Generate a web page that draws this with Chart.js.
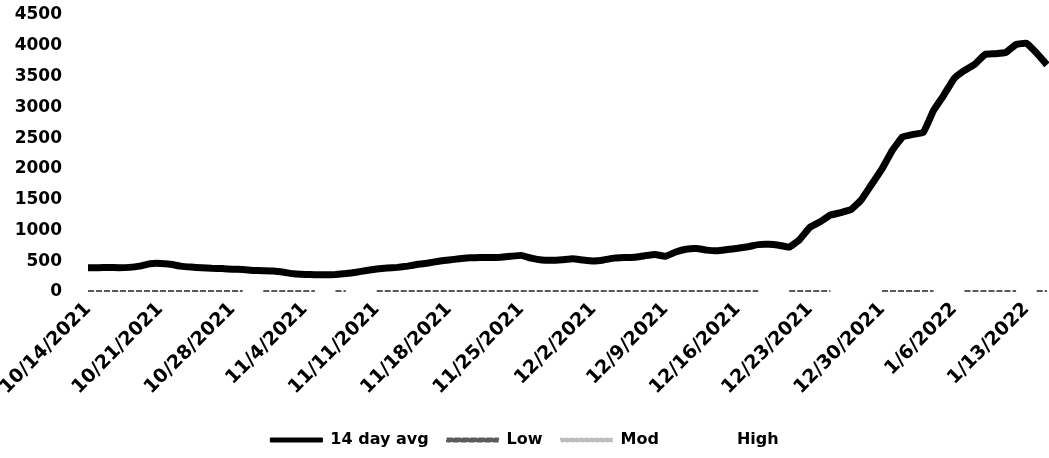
<!DOCTYPE html>
<html>
<head>
<meta charset="utf-8">
<script src="https://cdn.jsdelivr.net/npm/chart.js@4/dist/chart.umd.min.js"></script>
<style>
  html, body { margin: 0; padding: 0; background: #fff; }
  #wrap { width: 1049px; height: 458px; }
</style>
</head>
<body>
<div id="wrap"><canvas id="chart"></canvas></div>
<script>
// dates, one per day, 10/14/2021 .. 1/15/2022
const dates = [
  '10/14/2021','10/15/2021','10/16/2021','10/17/2021','10/18/2021','10/19/2021','10/20/2021',
  '10/21/2021','10/22/2021','10/23/2021','10/24/2021','10/25/2021','10/26/2021','10/27/2021',
  '10/28/2021','10/29/2021','10/30/2021','10/31/2021','11/1/2021','11/2/2021','11/3/2021',
  '11/4/2021','11/5/2021','11/6/2021','11/7/2021','11/8/2021','11/9/2021','11/10/2021',
  '11/11/2021','11/12/2021','11/13/2021','11/14/2021','11/15/2021','11/16/2021','11/17/2021',
  '11/18/2021','11/19/2021','11/20/2021','11/21/2021','11/22/2021','11/23/2021','11/24/2021',
  '11/25/2021','11/26/2021','11/27/2021','11/28/2021','11/29/2021','11/30/2021','12/1/2021',
  '12/2/2021','12/3/2021','12/4/2021','12/5/2021','12/6/2021','12/7/2021','12/8/2021',
  '12/9/2021','12/10/2021','12/11/2021','12/12/2021','12/13/2021','12/14/2021','12/15/2021',
  '12/16/2021','12/17/2021','12/18/2021','12/19/2021','12/20/2021','12/21/2021','12/22/2021',
  '12/23/2021','12/24/2021','12/25/2021','12/26/2021','12/27/2021','12/28/2021','12/29/2021',
  '12/30/2021','12/31/2021','1/1/2022','1/2/2022','1/3/2022','1/4/2022','1/5/2022',
  '1/6/2022','1/7/2022','1/8/2022','1/9/2022','1/10/2022','1/11/2022','1/12/2022',
  '1/13/2022','1/14/2022','1/15/2022'
];

const avg14 = [
  395, 395, 400, 395, 400, 420, 460,
  465, 450, 420, 405, 395, 385, 380,
  370, 365, 350, 345, 340, 320, 295,
  285, 280, 280, 285, 300, 320, 350,
  375, 390, 400, 420, 450, 470, 500,
  520, 540, 555, 560, 560, 565, 580,
  595, 550, 520, 515, 525, 540, 520,
  505, 520, 550, 560, 565, 590, 610,
  580, 650, 695, 705, 680, 670, 690,
  710, 735, 770, 775, 760, 730, 850,
  1050, 1140, 1250, 1290, 1340, 1500, 1750,
  2000, 2300, 2520, 2560, 2590, 2950, 3200,
  3470, 3600, 3700, 3860, 3870, 3890, 4020,
  4040, 3880, 3690
];

// threshold lines sit on the zero line, broken in places
const lowLine = [
  0, 0, 0, 0, 0, 0, 0,
  0, 0, 0, 0, 0, 0, 0,
  0, 0, null, 0, 0, 0, 0,
  0, 0, null, 0, 0, null, null,
  0, 0, 0, 0, 0, 0, 0,
  0, 0, 0, 0, 0, 0, 0,
  0, 0, 0, 0, 0, 0, 0,
  0, 0, 0, 0, 0, 0, 0,
  0, 0, 0, 0, 0, 0, 0,
  0, 0, 0, null, null, 0, 0,
  0, 0, 0, null, null, null, null,
  0, 0, 0, 0, 0, 0, null,
  null, 0, 0, 0, 0, 0, 0,
  null, 0, 0
];
const modLine = lowLine;
const highLine = [];

const yTicks = [0, 500, 1000, 1500, 2000, 2500, 3000, 3500, 4000, 4500];

const FONT = "'DejaVu Sans', sans-serif";

const ctx = document.getElementById('chart').getContext('2d');

new Chart(ctx, {
  type: 'line',
  data: {
    labels: dates,
    datasets: [
      {
        label: '14 day avg',
        data: avg14,
        borderColor: '#000',
        backgroundColor: '#000',
        borderWidth: 7,
        pointRadius: 0,
        tension: 0.1
      },
      {
        label: 'Low',
        data: lowLine,
        borderColor: '#5a5a5a',
        backgroundColor: '#5a5a5a',
        borderWidth: 4,
        borderDash: [6, 2],
        pointRadius: 0
      },
      {
        label: 'Mod',
        data: modLine,
        borderColor: '#bdbdbd',
        backgroundColor: '#bdbdbd',
        borderWidth: 1,
        borderDash: [2, 3],
        pointRadius: 0
      },
      {
        label: 'High',
        data: highLine,
        borderColor: 'rgba(0,0,0,0)',
        backgroundColor: 'rgba(0,0,0,0)',
        borderWidth: 0,
        pointRadius: 0
      }
    ]
  },
  options: {
    responsive: true,
    maintainAspectRatio: false,
    animation: false,
    layout: { padding: 0 },
    scales: {
      x: {
        offset: false,
        grid: { display: false, drawTicks: false },
        border: { display: false },
        ticks: {
          autoSkip: false,
          minRotation: 45,
          maxRotation: 45,
          padding: 6,
          color: '#000',
          font: { family: FONT, size: 19, weight: 'bold' },
          callback: function(value, index) {
            return index % 7 === 0 ? dates[index] : '';
          }
        },
        afterFit: function(scale) {
          scale.height = 122;
          scale.paddingLeft = 0;
          scale.paddingRight = 2;
        }
      },
      y: {
        min: 0,
        max: 4500,
        afterBuildTicks: function(scale) {
          scale.ticks = yTicks.map(v => ({ value: v }));
        },
        grid: { display: false, drawTicks: false },
        border: { display: false },
        ticks: {
          padding: 26,
          color: '#000',
          font: { family: FONT, size: 17, weight: 'bold' },
          callback: v => String(v)
        },
        afterFit: function(scale) {
          scale.width = 88;
          scale.paddingTop = 15;
          scale.paddingBottom = 0;
        }
      }
    },
    plugins: {
      legend: {
        position: 'bottom',
        labels: {
          color: '#000',
          boxWidth: 52,
          boxHeight: 4,
          padding: 18,
          font: { family: FONT, size: 16, weight: 'bold' },
          generateLabels: function(chart) {
            const items = Chart.defaults.plugins.legend.labels.generateLabels(chart);
            items.forEach(it => { it.lineWidth = 1; });
            return items;
          }
        }
      },
      tooltip: { enabled: false }
    }
  }
});
</script>
</body>
</html>
